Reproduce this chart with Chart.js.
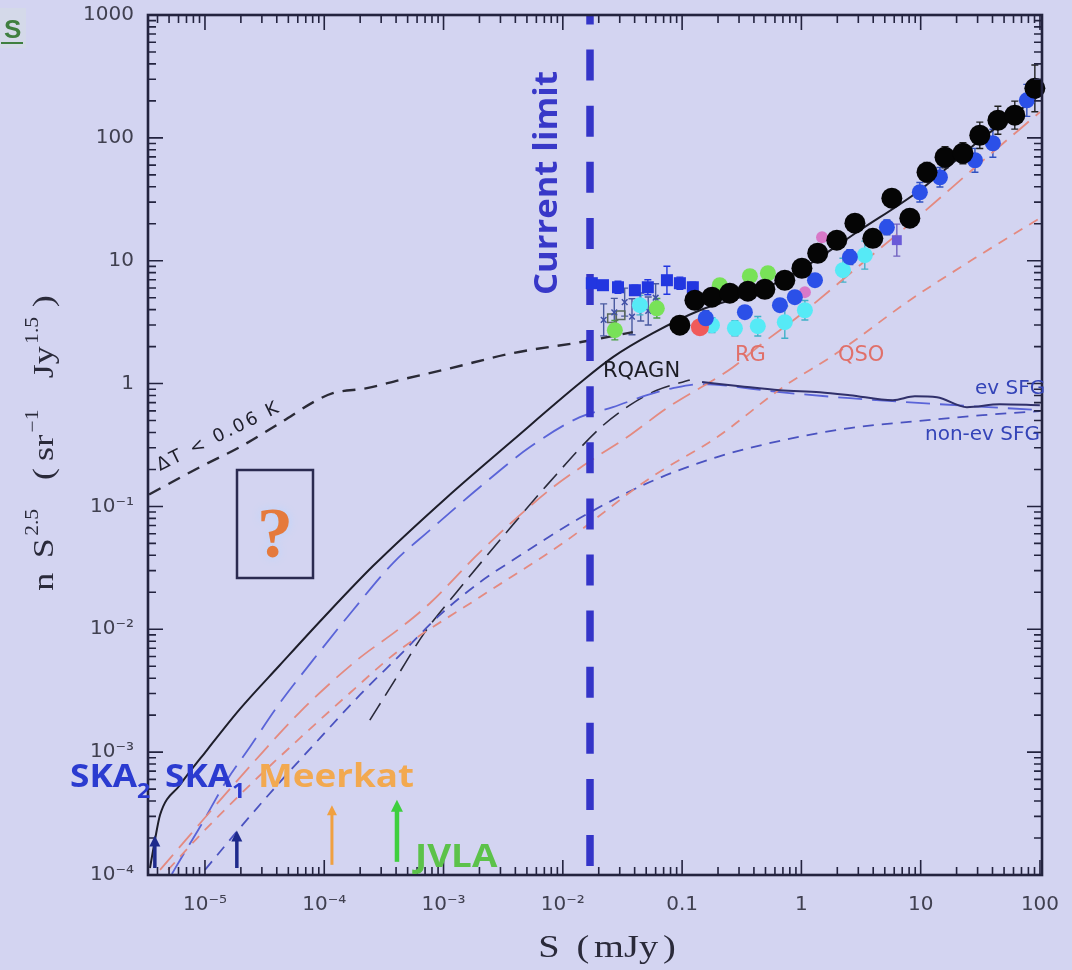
<!DOCTYPE html>
<html>
<head>
<meta charset="utf-8">
<script src="https://cdn.jsdelivr.net/npm/chart.js@4/dist/chart.umd.min.js"></script>
<style>
  html, body { margin: 0; padding: 0; background: #d3d4f1; overflow: hidden; }
  canvas { display: block; }
</style>
</head>
<body>
<canvas id="counts" width="1072" height="970"></canvas>
<script>
// ---- Axis ticks -----------------------------------------------------------
const xTickValues = [1e-5, 1e-4, 1e-3, 1e-2, 0.1, 1, 10, 100];
const xTickLabels = ['10⁻⁵', '10⁻⁴', '10⁻³', '10⁻²', '0.1', '1', '10', '100'];
const yTickValues = [1e-4, 1e-3, 1e-2, 0.1, 1, 10, 100, 1000];
const yTickLabels = ['10⁻⁴', '10⁻³', '10⁻²', '10⁻¹', '1', '10', '100', '1000'];
const xRange = [3.33e-6, 104];   // S (mJy)
const yRange = [1e-4, 1000];     // n S^2.5 (sr^-1 Jy^1.5)

// ---- Model curves: S (mJy) and n S^2.5 -----------------------------------
const totalS = [3.46e-6, 3.81e-6, 4.20e-6, 6.17e-6, 1.04e-5, 1.96e-5, 4.25e-5, 9.75e-5, 2.56e-4, 1.07e-3, 3.81e-3, 1.39e-2, 2.63e-2, 5.69e-2, 0.141, 0.449, 0.97, 3.09, 9.84, 31.3, 99.8];
const totalN = [1.14e-4, 1.93e-4, 3.08e-4, 5.40e-4, 1.04e-3, 2.24e-3, 5.12e-3, 1.23e-2, 3.27e-2, 0.119, 0.346, 1.01, 1.64, 2.57, 3.95, 5.75, 8.4, 17.7, 37.5, 95.7, 222];

const confusionS = [3.4e-6, 9.08e-6, 1.96e-5, 4.25e-5, 8.69e-5, 1.18e-4, 2.28e-4, 4.31e-4, 1.13e-3, 3.81e-3, 1.39e-2, 3.86e-2];
const confusionN = [0.125, 0.209, 0.304, 0.477, 0.733, 0.836, 0.918, 1.07, 1.33, 1.77, 2.17, 2.62];

const evSfgS = [5.28e-6, 6.17e-6, 9.08e-6, 1.53e-5, 2.38e-5, 4.01e-5, 8.04e-5, 1.74e-4, 3.77e-4, 7.69e-4, 2.02e-3, 5.30e-3, 1.39e-2, 2.63e-2, 5.07e-2, 8.38e-2, 0.141, 0.659, 2.55, 14.5, 99.8];
const evSfgN = [1.02e-4, 1.32e-4, 2.46e-4, 5.93e-4, 1.10e-3, 2.33e-3, 5.61e-3, 1.43e-2, 3.46e-2, 6.41e-2, 0.144, 0.304, 0.533, 0.643, 0.805, 0.918, 0.989, 0.851, 0.760, 0.679, 0.608];

const sfgObsS = [0.147, 0.305, 0.659, 1.43, 2.55, 5.85, 8.94, 13.7, 24.4, 46.1, 99.8];
const sfgObsN = [1.03, 0.953, 0.884, 0.851, 0.805, 0.733, 0.789, 0.775, 0.643, 0.679, 0.667];

const nonEvSfgS = [1.00e-5, 1.96e-5, 4.25e-5, 9.20e-5, 1.99e-4, 4.31e-4, 9.33e-4, 2.02e-3, 3.82e-3, 1.39e-2, 5.37e-2, 0.196, 0.700, 2.55, 9.29, 33.2, 99.8];
const nonEvSfgN = [1.10e-4, 2.41e-4, 5.71e-4, 1.30e-3, 2.92e-3, 6.17e-3, 1.31e-2, 2.42e-2, 3.66e-2, 8.04e-2, 0.158, 0.252, 0.346, 0.434, 0.494, 0.553, 0.596];

const rgS = [4.20e-6, 7.48e-6, 1.34e-5, 2.52e-5, 6.25e-5, 1.88e-4, 4.31e-4, 7.69e-4, 2.02e-3, 7.36e-3, 1.59e-2, 3.65e-2, 7.45e-2, 0.267, 0.449, 0.970, 3.09, 9.84, 31.3, 99.8];
const rgN = [1.10e-4, 2.11e-4, 4.07e-4, 8.15e-4, 2.12e-3, 5.61e-3, 1.02e-2, 1.63e-2, 4.25e-2, 0.131, 0.225, 0.380, 0.631, 1.36, 2.05, 3.60, 9.19, 23.4, 62.1, 162];

const qsoS = [4.90e-6, 9.08e-6, 2.38e-5, 6.25e-5, 1.64e-4, 4.06e-4, 2.02e-3, 1.00e-2, 5.37e-2, 0.196, 0.700, 1.98, 8.11, 28.5, 99.8];
const qsoN = [1.10e-4, 2.11e-4, 5.40e-4, 1.30e-3, 3.03e-3, 6.52e-3, 1.83e-2, 5.02e-2, 0.170, 0.366, 0.935, 1.77, 4.77, 10.5, 22.2];

const rqagnS = [2.41e-4, 3.91e-4, 6.98e-4, 1.29e-3, 2.97e-3, 7.36e-3, 2.05e-2, 3.65e-2, 6.15e-2, 0.116];
const rqagnN = [1.82e-3, 3.86e-3, 9.48e-3, 2.01e-2, 5.32e-2, 0.149, 0.434, 0.667, 0.883, 1.07];

// Deepest present-day survey limit (mJy)
const limitS = [0.0169, 0.0169];
const limitN = [1e-4, 1000];

// Survey sensitivities (mJy): arrow foot and tip in n S^2.5
const arrowNames = ['SKA2', 'SKA1', 'MeerKAT', 'JVLA'];
const arrowS = [3.8e-6, 1.85e-5, 1.16e-4, 4.07e-4];
const arrowFootN = [1.14e-4, 1.14e-4, 1.21e-4, 1.28e-4];
const arrowTipN = [2.1e-4, 2.3e-4, 3.7e-4, 4.1e-4];

// ---- Measured counts ------------------------------------------------------
const blackS = [0.0957, 0.128, 0.178, 0.251, 0.356, 0.494, 0.726, 1.01, 1.37, 1.98, 2.81, 3.97, 5.73, 8.11, 11.3, 16.0, 22.6, 31.3, 44.4, 61.5, 90.6];
const blackN = [2.99, 4.77, 5.05, 5.44, 5.65, 5.86, 6.94, 8.69, 11.5, 14.7, 20.2, 15.2, 32.3, 22.2, 52.5, 69.5, 75.0, 105, 139, 153, 253];
const blackErr = [0.1, 0.08, 0.08, 0.08, 0.08, 0.08, 0.08, 0.1, 0.1, 0.1, 0.12, 0.15, 0.15, 0.18, 0.2, 0.22, 0.22, 0.28, 0.3, 0.3, 0.55];

const blueS = [0.158, 0.336, 0.661, 0.881, 1.30, 2.55, 5.21, 9.84, 14.5, 28.5, 40.3, 77.6];
const blueN = [3.40, 3.81, 4.35, 5.05, 6.94, 10.7, 18.7, 36.1, 47.8, 65.7, 90.4, 202];
const blueErr = [0.15, 0.12, 0.12, 0.1, 0.12, 0.15, 0.15, 0.2, 0.2, 0.25, 0.3, 0.35];

const squareS = [0.0175, 0.0217, 0.0290, 0.0402, 0.0516, 0.0746, 0.0958, 0.123];
const squareN = [6.56, 6.32, 6.08, 5.75, 6.08, 6.94, 6.56, 6.08];
const squareErr = [0.08, 0.08, 0.12, 0.1, 0.15, 0.3, 0.12, 0.1];

const cyanS = [0.0443, 0.178, 0.277, 0.431, 0.726, 1.07, 2.23, 3.40];
const cyanN = [4.35, 2.99, 2.82, 2.93, 3.16, 3.95, 8.37, 11.1];
const cyanErr = [0.2, 0.15, 0.15, 0.2, 0.35, 0.2, 0.25, 0.3];

const greenS = [0.0273, 0.0614, 0.207, 0.370, 0.524];
const greenN = [2.72, 4.10, 6.32, 7.48, 7.91];
const greenErr = [0.2, 0.2, 0.12, 0.12, 0.12];

const faintS = [0.022, 0.027, 0.033, 0.038, 0.045, 0.052, 0.060];
const faintN = [3.3, 3.8, 4.6, 3.5, 4.2, 3.9, 5.0];
const faintErr = [0.35, 0.3, 0.3, 0.4, 0.3, 0.3, 0.3];

const openSqS = [0.0258, 0.0305];
const openSqN = [3.40, 3.60];

const redS = [0.141];
const redN = [2.88];

const pinkS = [1.07, 1.49];
const pinkN = [5.55, 15.5];

const purpleS = [6.31];
const purpleN = [14.7];
const purpleErr = [0.35];

// ---- Styling --------------------------------------------------------------
const BG = '#d3d4f1';
const FRAME = '#23233f';

const pts = (xs, ys) => xs.map((v, i) => ({ x: v, y: ys[i] }));

function curve(xs, ys, color, width, dash, order) {
  return {
    data: pts(xs, ys), showLine: true, borderColor: color, borderWidth: width,
    borderDash: dash, pointRadius: 0, fill: false, cubicInterpolationMode: 'monotone',
    order: order, clip: 0
  };
}

function markers(xs, ys, color, style, radius, order, err, errColor, extra) {
  return Object.assign({
    data: pts(xs, ys), showLine: false, pointStyle: style, pointRadius: radius,
    pointBackgroundColor: color, pointBorderColor: color, pointBorderWidth: 0,
    order: order, clip: false, errFrac: err || null, errColor: errColor || color
  }, extra || {});
}

const datasets = [
  curve(confusionS, confusionN, '#2a2a36', 2.4, [13, 9], 20),
  curve(rgS, rgN, '#e48a80', 1.8, [20, 9], 20),
  curve(qsoS, qsoN, '#e48a80', 1.8, [10, 8], 20),
  curve(nonEvSfgS, nonEvSfgN, '#4a52c0', 1.8, [11, 8], 20),
  curve(evSfgS, evSfgN, '#5a64d8', 1.8, [24, 10], 20),
  curve(rqagnS, rqagnN, '#2a2a3a', 1.6, [20, 9], 20),
  curve(sfgObsS, sfgObsN, '#30306a', 2, [], 19),
  curve(totalS, totalN, '#1e1e2a', 2, [], 18),
  Object.assign(curve(limitS, limitN, '#3434c8', 7.5, [31, 25.1], 15), { borderDashOffset: 47.1, cubicInterpolationMode: 'default', tension: 0 }),
  markers(openSqS, openSqN, 'rgba(0,0,0,0)', 'rect', 6, 9, null, null, { pointBorderColor: '#5a6a5a', pointBorderWidth: 1.5 }),
  markers(faintS, faintN, '#4050a8', 'crossRot', 4, 8, faintErr, '#4a5aa0', { pointBorderWidth: 1.5, pointBorderColor: '#4050a8' }),
  markers(squareS, squareN, '#2236e0', 'rect', 8.5, 7, squareErr, '#2236e0'),
  markers(greenS, greenN, '#78e258', 'circle', 8, 6, greenErr, '#48a040'),
  markers(cyanS, cyanN, '#56eaf6', 'circle', 8, 6, cyanErr, '#40b0c8'),
  markers(purpleS, purpleN, '#6a5ad8', 'rect', 7, 5, purpleErr, '#7060c0'),
  markers(pinkS, pinkN, '#d878c8', 'circle', 6, 5),
  markers(redS, redN, '#f05a5a', 'circle', 9, 4),
  markers(blueS, blueN, '#2b50e8', 'circle', 8, 3, blueErr, '#3050c0'),
  markers(blackS, blackN, '#050505', 'circle', 10.5, 1, blackErr, '#202020')
];

// ---- Drawing helpers ------------------------------------------------------
function text(ctx, s, x, y, o) {
  ctx.save();
  ctx.translate(x, y);
  if (o.rot) ctx.rotate(o.rot);
  if (o.sx) ctx.scale(o.sx, 1);
  ctx.font = o.font;
  ctx.fillStyle = o.color;
  ctx.textAlign = o.align || 'left';
  ctx.textBaseline = o.base || 'alphabetic';
  if (o.ls) ctx.letterSpacing = o.ls + 'px';
  ctx.fillText(s, 0, 0);
  ctx.restore();
}

// parts: [text, kind ('n' | 'sup' | 'sub'), gap after]
function richText(ctx, parts, x, y, o) {
  ctx.save();
  ctx.translate(x, y);
  if (o.rot) ctx.rotate(o.rot);
  if (o.sx) ctx.scale(o.sx, 1);
  ctx.fillStyle = o.color;
  ctx.textAlign = 'left';
  ctx.textBaseline = 'alphabetic';
  const fontOf = k => (k === 'n' ? o.font : o.small);
  let w = 0;
  for (const [t, k, g] of parts) { ctx.font = fontOf(k); w += ctx.measureText(t).width + (g || 0); }
  let cx = o.align === 'center' ? -w / 2 : 0;
  for (const [t, k, g] of parts) {
    ctx.font = fontOf(k);
    const dy = k === 'sup' ? -o.supDy : (k === 'sub' ? o.subDy : 0);
    ctx.fillText(t, cx, dy);
    cx += ctx.measureText(t).width + (g || 0);
  }
  ctx.restore();
}

function logTicks(min, max) {
  const out = [];
  for (let e = Math.floor(Math.log10(min)); e <= Math.ceil(Math.log10(max)); e++) {
    for (let k = 1; k < 10; k++) {
      const v = k * Math.pow(10, e);
      if (v >= min * 0.9999 && v <= max * 1.0001) out.push({ v: v, major: k === 1 });
    }
  }
  return out;
}

function arrow(ctx, x, yFoot, yTip, color, width, head) {
  ctx.save();
  ctx.strokeStyle = color; ctx.fillStyle = color; ctx.lineWidth = width;
  ctx.beginPath(); ctx.moveTo(x, yFoot); ctx.lineTo(x, yTip + head * 0.9); ctx.stroke();
  ctx.beginPath();
  ctx.moveTo(x, yTip); ctx.lineTo(x - head * 0.5, yTip + head); ctx.lineTo(x + head * 0.5, yTip + head);
  ctx.closePath(); ctx.fill();
  ctx.restore();
}

const decor = {
  id: 'decor',
  beforeDraw(chart) {
    const { ctx, width, height } = chart;
    ctx.save();
    ctx.fillStyle = BG;
    ctx.fillRect(0, 0, width, height);
    // slide section mark in the corner
    ctx.fillStyle = 'rgba(216,230,214,0.3)';
    ctx.fillRect(0, 8, 26, 40);
    ctx.fillStyle = '#3f7f3f';
    ctx.font = 'bold 26px "Liberation Sans"';
    ctx.fillText('S', 4, 38);
    ctx.fillRect(1, 42, 22, 2);
    ctx.restore();
  },
  beforeDatasetsDraw(chart) {
    const { ctx, scales: { x, y } } = chart;
    ctx.save();
    chart.data.datasets.forEach(ds => {
      if (!ds.errFrac) return;
      ctx.strokeStyle = ds.errColor;
      ctx.lineWidth = 1.4;
      ds.data.forEach((p, j) => {
        const e = ds.errFrac[j];
        if (!e) return;
        const px = x.getPixelForValue(p.x);
        const y1 = y.getPixelForValue(p.y * (1 + e));
        const y2 = y.getPixelForValue(p.y / (1 + e));
        ctx.beginPath();
        ctx.moveTo(px, y1); ctx.lineTo(px, y2);
        ctx.moveTo(px - 3.5, y1); ctx.lineTo(px + 3.5, y1);
        ctx.moveTo(px - 3.5, y2); ctx.lineTo(px + 3.5, y2);
        ctx.stroke();
      });
    });
    ctx.restore();
  },
  afterDatasetsDraw(chart) {
    const { ctx, chartArea: a, scales: { x, y } } = chart;
    ctx.save();

    // frame with inward ticks on all four sides
    ctx.strokeStyle = FRAME;
    ctx.lineWidth = 1.6;
    ctx.beginPath();
    for (const t of logTicks(x.min, x.max)) {
      const px = x.getPixelForValue(t.v), L = t.major ? 15 : 8;
      ctx.moveTo(px, a.bottom); ctx.lineTo(px, a.bottom - L);
      ctx.moveTo(px, a.top); ctx.lineTo(px, a.top + L);
    }
    for (const t of logTicks(y.min, y.max)) {
      const py = y.getPixelForValue(t.v), L = t.major ? 15 : 8;
      ctx.moveTo(a.left, py); ctx.lineTo(a.left + L, py);
      ctx.moveTo(a.right, py); ctx.lineTo(a.right - L, py);
    }
    ctx.stroke();
    ctx.lineWidth = 2.6;
    ctx.strokeRect(a.left, a.top, a.right - a.left, a.bottom - a.top);

    // survey sensitivity arrows
    const arrowStyle = [
      ['#1e2a8c', 3.5, 11], ['#1e2a8c', 3.5, 11], ['#f0a040', 3, 10], ['#3ecf3e', 4.5, 12]
    ];
    arrowS.forEach((s, i) => {
      const [c, w, h] = arrowStyle[i];
      arrow(ctx, x.getPixelForValue(s), y.getPixelForValue(arrowFootN[i]), y.getPixelForValue(arrowTipN[i]), c, w, h);
    });

    // unknown-population box
    ctx.strokeStyle = '#2a2a50';
    ctx.lineWidth = 2.5;
    ctx.strokeRect(237, 470, 76, 108);
    ctx.save();
    ctx.shadowColor = '#b8d6ff';
    ctx.shadowBlur = 10;
    text(ctx, '?', 275, 557, { font: 'bold 72px "Liberation Serif"', color: '#e57a3c', align: 'center' });
    ctx.restore();

    // curve labels
    text(ctx, 'ΔT < 0.06 K', 160, 471, { font: '18px "DejaVu Sans"', color: '#1e1e2a', rot: -0.46, ls: 2.6 });
    text(ctx, 'RQAGN', 603, 377, { font: '21px "DejaVu Sans"', color: '#1c1c24' });
    text(ctx, 'RG', 735, 361, { font: '21px "DejaVu Sans"', color: '#e0706a' });
    text(ctx, 'QSO', 838, 361, { font: '21px "DejaVu Sans"', color: '#e0706a' });
    text(ctx, 'ev SFG', 975, 394, { font: '20px "DejaVu Sans"', color: '#3444b8' });
    text(ctx, 'non-ev SFG', 925, 440, { font: '20px "DejaVu Sans"', color: '#3444b8' });

    text(ctx, 'Current limit', 548, 183, { font: 'bold 32px "Open Sans"', color: '#3838c8', rot: -Math.PI / 2, align: 'center', base: 'middle', sx: 1.08 });

    // facility labels
    const fac = { font: 'bold 32px "Open Sans"', small: 'bold 21px "Open Sans"', subDy: 11, supDy: 0 };
    richText(ctx, [['SKA', 'n', 0], ['2', 'sub', 0]], 70, 787, Object.assign({ color: '#2b3bd0', sx: 1.1 }, fac));
    richText(ctx, [['SKA', 'n', 0], ['1', 'sub', 0]], 165, 787, Object.assign({ color: '#2b3bd0', sx: 1.1 }, fac));
    text(ctx, 'Meerkat', 258, 787, { font: 'bold 32px "Open Sans"', color: '#f2a950', sx: 1.15 });
    text(ctx, 'JVLA', 415, 867, { font: 'bold 32px "Open Sans"', color: '#5cc24a', sx: 1.15 });

    // axis titles
    richText(ctx, [['S', 'n', 14], ['(', 'n', 4], ['mJy', 'n', 4], [')', 'n', 0]], 607, 957,
      { font: '32px "Liberation Serif"', small: '20px "Liberation Serif"', color: '#2a2a3a', align: 'center', sx: 1.2, supDy: 14, subDy: 0 });
    richText(ctx, [['n', 'n', 12], ['S', 'n', 2], ['2.5', 'sup', 24], ['(', 'n', 6], ['sr', 'n', 2], ['−1', 'sup', 26], ['Jy', 'n', 2], ['1.5', 'sup', 8], [')', 'n', 0]], 53, 443,
      { font: '30px "Liberation Serif"', small: '18px "Liberation Serif"', color: '#2a2a3a', align: 'center', rot: -Math.PI / 2, sx: 1.2, supDy: 15, subDy: 0 });

    ctx.restore();
  }
};

const findLabel = (vals, labels, v) => {
  const i = vals.findIndex(t => Math.abs(Math.log10(t) - Math.log10(v)) < 1e-6);
  return i >= 0 ? labels[i] : '';
};

new Chart(document.getElementById('counts'), {
  type: 'scatter',
  data: { datasets: datasets },
  options: {
    responsive: false,
    animation: false,
    events: [],
    layout: { padding: { left: 0, right: 30, top: 15, bottom: 0 } },
    plugins: { legend: { display: false }, tooltip: { enabled: false } },
    scales: {
      x: {
        type: 'logarithmic', position: 'bottom', min: xRange[0], max: xRange[1],
        afterBuildTicks: s => { s.ticks = xTickValues.map(v => ({ value: v })); },
        afterFit: s => { s.height = 95; s.paddingLeft = 0; s.paddingRight = 0; },
        grid: { display: false, drawTicks: false },
        border: { display: false },
        ticks: {
          autoSkip: false, maxRotation: 0, minRotation: 0, padding: 18,
          color: '#404050', font: { family: 'DejaVu Sans', size: 20 },
          callback: v => findLabel(xTickValues, xTickLabels, v)
        }
      },
      y: {
        type: 'logarithmic', position: 'left', min: yRange[0], max: yRange[1],
        afterBuildTicks: s => { s.ticks = yTickValues.map(v => ({ value: v })); },
        afterFit: s => { s.width = 148; s.paddingTop = 0; s.paddingBottom = 0; },
        grid: { display: false, drawTicks: false },
        border: { display: false },
        ticks: {
          autoSkip: false, padding: 14,
          color: '#404050', font: { family: 'DejaVu Sans', size: 20 },
          callback: v => findLabel(yTickValues, yTickLabels, v)
        }
      }
    }
  },
  plugins: [decor]
});
</script>
</body>
</html>
